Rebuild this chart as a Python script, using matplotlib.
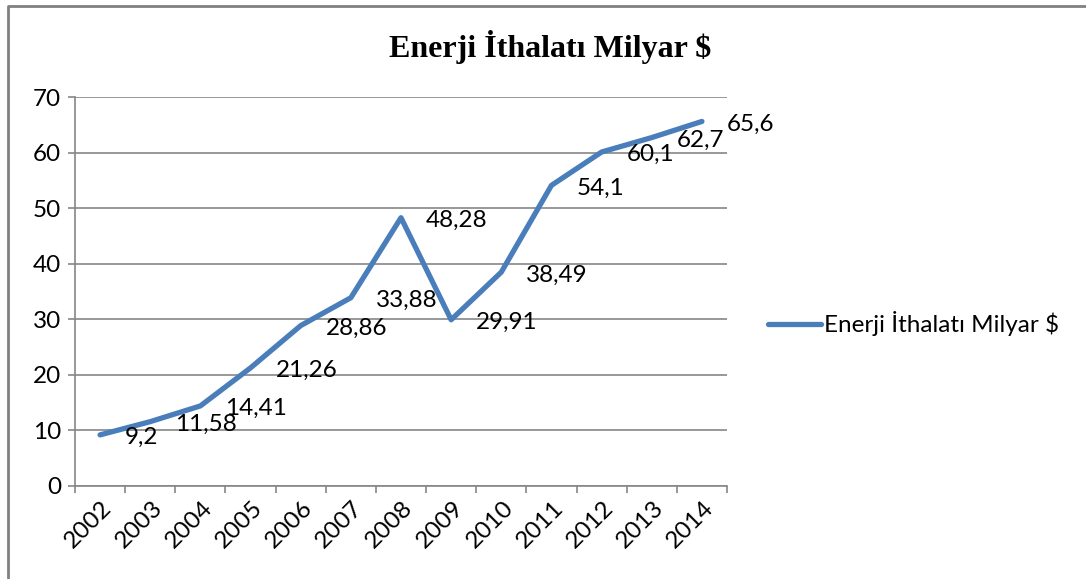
import numpy as np
import matplotlib
matplotlib.use('Agg')
import matplotlib.pyplot as plt
from matplotlib.lines import Line2D
from matplotlib import transforms

years = ['2002', '2003', '2004', '2005', '2006', '2007', '2008',
         '2009', '2010', '2011', '2012', '2013', '2014']
imports = [9.2, 11.58, 14.41, 21.26, 28.86, 33.88, 48.28,
           29.91, 38.49, 54.1, 60.1, 62.7, 65.6]
series_name = 'Enerji İthalatı Milyar $'

plt.rcParams['font.family'] = ['Lato', 'DejaVu Sans']
blue = '#4A7EBB'
gray = '#868686'
fs = 17.5

fig = plt.figure(figsize=(10.86, 5.79), dpi=100)
ax = fig.add_axes([75 / 1086, 1 - 486 / 579, (727 - 75) / 1086, (486 - 97) / 579])

x = np.arange(len(years))
ax.plot(x, imports, color=blue, lw=3.8, solid_capstyle='round',
        solid_joinstyle='round', label=series_name, zorder=3)

for xi, v in zip(x, imports):
    lab = f'{v:g}'.replace('.', ',')
    ax.annotate(lab, (xi, v), xytext=(18, -2), textcoords='offset points',
                ha='left', va='center', fontsize=fs)

ax.set_xlim(-0.5, len(years) - 0.5)
ax.set_ylim(0, 70)
ax.set_yticks(range(0, 71, 10))
ax.set_xticks(x, labels=years, rotation=45, ha='right', va='top')
ax.set_xticks(np.arange(-0.5, len(years)), minor=True)
ax.tick_params(axis='x', which='major', length=0, labelsize=fs, pad=8)
ax.tick_params(axis='x', which='minor', length=5, color=gray, width=1.2)
ax.tick_params(axis='y', length=5, color=gray, width=1.2, labelsize=fs, pad=5)

offset = transforms.ScaledTranslation(16 / 100, 0, fig.dpi_scale_trans)
for t in ax.get_xticklabels():
    t.set_transform(t.get_transform() + offset)

ax.yaxis.grid(True, color=gray, lw=1.2)
ax.set_axisbelow(True)
for s in ['top', 'right']:
    ax.spines[s].set_visible(False)
for s in ['left', 'bottom']:
    ax.spines[s].set_color(gray)
    ax.spines[s].set_linewidth(1.2)

ax.legend(loc='center left', bbox_to_anchor=(768 / 1086, 1 - 324 / 579),
          bbox_transform=fig.transFigure, frameon=False, borderpad=0,
          borderaxespad=0, handlelength=2.2, handletextpad=0.1, fontsize=fs)

fig.text(550 / 1086, 1 - 47 / 579, series_name, ha='center', va='center',
         fontsize=23, fontweight='bold', family='Liberation Serif')

fig.add_artist(Line2D([8 / 1086, 8 / 1086, 1], [0, 1 - 6 / 579, 1 - 6 / 579],
                      transform=fig.transFigure, color='#808080', lw=2))

fig.savefig('out.png', dpi=100)
